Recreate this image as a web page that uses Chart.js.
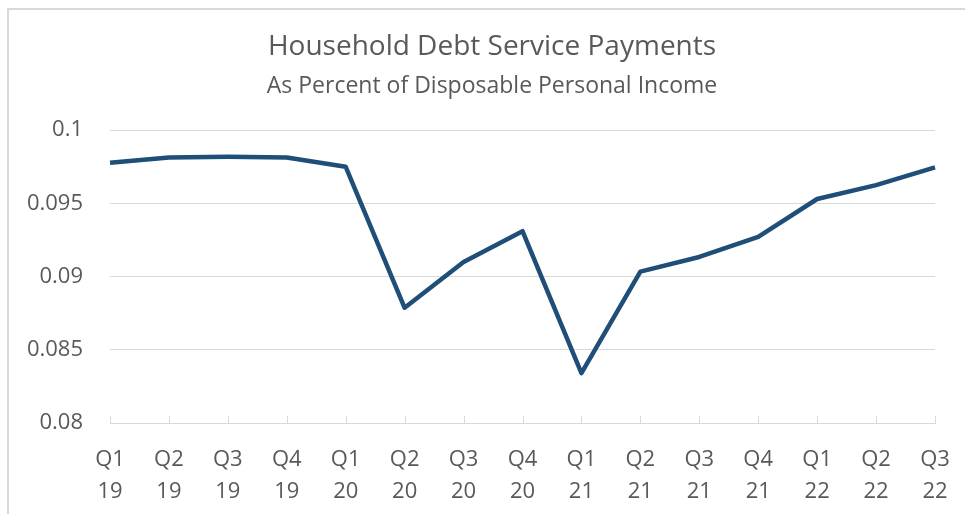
<!DOCTYPE html>
<html>
<head>
<meta charset="utf-8">
<script src="https://cdn.jsdelivr.net/npm/chart.js@4/dist/chart.umd.min.js"></script>
<style>
  html, body { margin: 0; padding: 0; background: #ffffff; }
  #wrap { position: relative; width: 965px; height: 514px; overflow: hidden; }
  #frame { position: absolute; left: 7px; top: 8px; width: 2000px; height: 2000px;
           border-left: 2px solid #d9d9d9; border-top: 2px solid #d9d9d9; box-sizing: border-box; }
  canvas { position: absolute; left: 0; top: 0; }
</style>
</head>
<body>
<div id="wrap">
  <div id="frame"></div>
  <canvas id="c" width="965" height="514"></canvas>
</div>
<script>
const quarters = ['Q1','Q2','Q3','Q4','Q1','Q2','Q3','Q4','Q1','Q2','Q3','Q4','Q1','Q2','Q3'];
const years    = ['19','19','19','19','20','20','20','20','21','21','21','21','22','22','22'];
const debtServiceRatio = [0.09777, 0.09814, 0.09818, 0.09814, 0.0975, 0.08787, 0.0910, 0.0931,
                          0.0834, 0.09034, 0.09134, 0.09271, 0.0953, 0.09625, 0.09746];
const yTicks = [0.08, 0.085, 0.09, 0.095, 0.1];

const labels = quarters.map((q, i) => [q, years[i]]);
const textColor = '#595959';
const gridColor = '#d9d9d9';
const fontFamily = '"Open Sans", "Liberation Sans", sans-serif';

const upTicks = {
  id: 'upTicks',
  afterLayout(chart) {
    // centre title and subtitle over the bordered chart frame
    chart.boxes.forEach(b => {
      if (b.position === 'top' && b.options && b.options.text !== undefined) {
        b.left = 19;
        b.right = 965;
        b.width = b.right - b.left;
      }
    });
  },
  afterDatasetsDraw(chart) {
    const x = chart.scales.x, ctx = chart.ctx;
    const yb = chart.chartArea.bottom;
    ctx.save();
    ctx.strokeStyle = gridColor;
    ctx.lineWidth = 1;
    for (let i = 0; i < labels.length; i++) {
      const px = Math.round(x.getPixelForValue(i)) + 0.5;
      ctx.beginPath();
      ctx.moveTo(px, yb);
      ctx.lineTo(px, yb - 7);
      ctx.stroke();
    }
    ctx.restore();
  }
};

new Chart(document.getElementById('c'), {
  type: 'line',
  data: {
    labels: labels,
    datasets: [{
      data: debtServiceRatio,
      borderColor: '#1f4e79',
      borderWidth: 4.5,
      pointRadius: 0,
      tension: 0,
      fill: false,
      borderJoinStyle: 'round',
      borderCapStyle: 'butt'
    }]
  },
  options: {
    responsive: false,
    animation: false,
    layout: { padding: { left: 0, right: 30, top: 0, bottom: 0 } },
    plugins: {
      legend: { display: false },
      tooltip: { enabled: false },
      title: {
        display: true,
        text: 'Household Debt Service Payments',
        color: textColor,
        font: { family: fontFamily, size: 28, weight: 'normal', lineHeight: 1.2 },
        padding: { top: 30, bottom: 4 }
      },
      subtitle: {
        display: true,
        text: 'As Percent of Disposable Personal Income',
        color: textColor,
        font: { family: fontFamily, size: 23, weight: 'normal', lineHeight: 1.2 },
        padding: { top: 5, bottom: 30 }
      }
    },
    scales: {
      x: {
        type: 'category',
        offset: false,
        grid: { display: true, drawOnChartArea: false, drawTicks: false },
        border: { display: true, color: gridColor, width: 1 },
        ticks: {
          color: textColor,
          font: { family: fontFamily, size: 22, lineHeight: 1.45 },
          padding: 21,
          maxRotation: 0,
          autoSkip: false
        },
        afterFit(scale) { scale.height = 91; scale.paddingLeft = 0; scale.paddingRight = 0; }
      },
      y: {
        min: 0.08,
        max: 0.1,
        afterBuildTicks(scale) { scale.ticks = yTicks.map(v => ({ value: v })); },
        grid: { color: gridColor, lineWidth: 1, drawTicks: false },
        border: { display: false },
        ticks: {
          color: textColor,
          font: { family: fontFamily, size: 22 },
          padding: 27,
          callback: (v) => String(v)
        },
        afterFit(scale) { scale.width = 110; }
      }
    }
  },
  plugins: [upTicks]
});
</script>
</body>
</html>
